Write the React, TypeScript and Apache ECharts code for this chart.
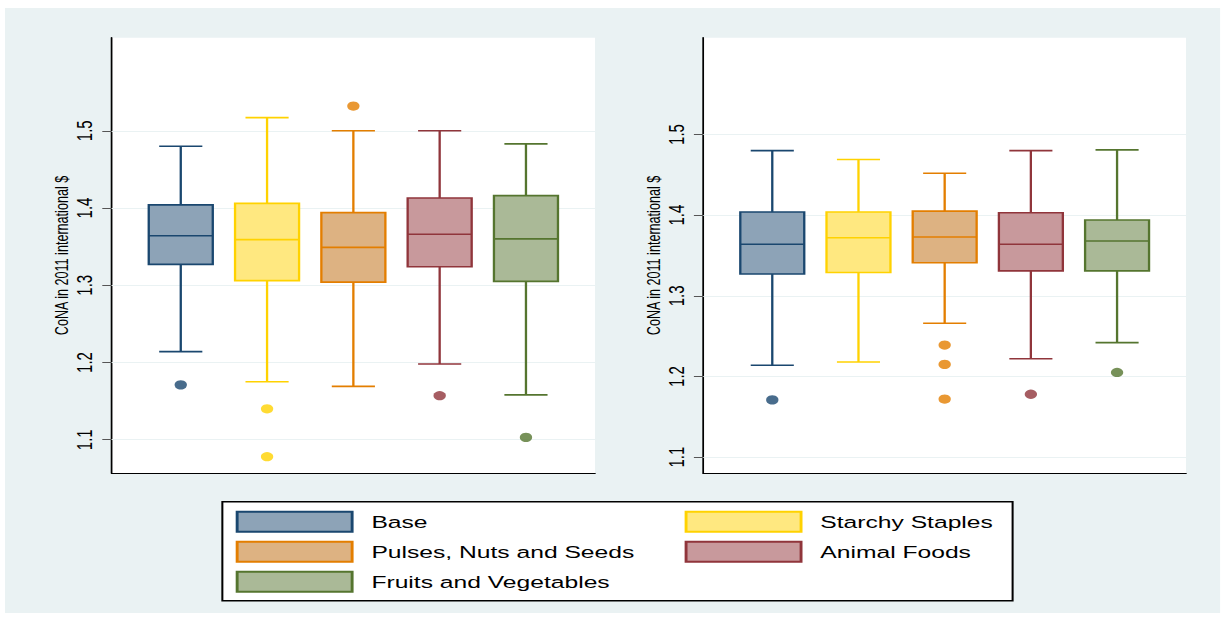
import React, { useEffect, useRef } from 'react';
import * as echarts from 'echarts';

// ---------- data ----------
const categories = ['Base', 'Starchy Staples', 'Pulses, Nuts and Seeds', 'Animal Foods', 'Fruits and Vegetables'];
// [lower whisker, Q1, median, Q3, upper whisker]
const leftStats = [
  [1.214, 1.327, 1.364, 1.404, 1.480],
  [1.175, 1.306, 1.359, 1.406, 1.517],
  [1.169, 1.304, 1.349, 1.394, 1.500],
  [1.198, 1.324, 1.366, 1.413, 1.500],
  [1.158, 1.305, 1.360, 1.416, 1.483],
];
const leftOutliers = [[1.171], [1.140, 1.078], [1.532], [1.157], [1.103]];
const rightStats = [
  [1.214, 1.327, 1.364, 1.404, 1.480],
  [1.218, 1.329, 1.372, 1.404, 1.469],
  [1.266, 1.341, 1.373, 1.405, 1.452],
  [1.222, 1.331, 1.364, 1.403, 1.480],
  [1.242, 1.331, 1.368, 1.394, 1.481],
];
const rightOutliers = [[1.171], [], [1.239, 1.215, 1.172], [1.178], [1.205]];
const yTicks = [1.1, 1.2, 1.3, 1.4, 1.5];
const yRanges = [[1.0565, 1.6205], [1.08, 1.62]];
const yTitle = 'CoNA in 2011 international $';

// ---------- styling ----------
const lineColors = ['#1a476f', '#ffd200', '#e37e00', '#90353b', '#55752f'];
const fillColors = ['#8da3b7', '#ffe880', '#ddb282', '#c8999c', '#aab997'];
const FONT = '"Liberation Sans", Arial, Helvetica, sans-serif';
const S = 1.45; // horizontal stretch of the whole figure
const W = 1215 / S;
const H = 605;
const BOX_W = 0.742;
const CAP_W = 0.5;

function buildOption() {
  const panels = [
    { stats: leftStats, outliers: leftOutliers, left: 73.6, width: 333.3 },
    { stats: rightStats, outliers: rightOutliers, left: 481.6, width: 332.9 },
  ];
  const grid = panels.map((p) => ({
    left: p.left, top: 29.7, width: p.width, height: 435.6,
    show: true, backgroundColor: '#ffffff', borderWidth: 0,
  }));
  const xAxis = panels.map((_, i) => ({
    type: 'value', gridIndex: i, min: 0.2, max: 5.8,
    axisLine: { show: true, onZero: false, lineStyle: { color: '#000', width: 1.2 } },
    axisTick: { show: false }, axisLabel: { show: false }, splitLine: { show: false },
  }));
  const yAxis = panels.map((_, i) => ({
    type: 'value', gridIndex: i, min: yRanges[i][0], max: yRanges[i][1],
    axisLine: { show: true, onZero: false, lineStyle: { color: '#000', width: 1.2 } },
    axisTick: { show: true, length: 6.5, customValues: yTicks, lineStyle: { color: '#555', width: 1 } },
    axisLabel: { customValues: yTicks, rotate: 90, margin: 11, fontSize: 15, fontFamily: FONT, color: '#000' },
    splitLine: { show: false },
    name: yTitle, nameLocation: 'middle', nameGap: 28, nameRotate: 90,
    nameTextStyle: { fontSize: 12.6, fontFamily: FONT, color: '#000' },
  }));

  const series: any[] = [];
  panels.forEach((p, pi) => {
    series.push({
      type: 'line', xAxisIndex: pi, yAxisIndex: pi, data: [], silent: true,
      markLine: {
        silent: true, symbol: ['none', 'none'], label: { show: false }, z: 1,
        lineStyle: { color: '#eaf2f3', width: 1.2, type: 'solid' },
        emphasis: { disabled: true },
        data: yTicks.map((v) => ({ yAxis: v })),
      },
    });
    categories.forEach((name, ci) => {
      const stroke = lineColors[ci];
      const fill = fillColors[ci];
      series.push({
        type: 'custom', name, xAxisIndex: pi, yAxisIndex: pi, z: 3,
        itemStyle: { color: fill, borderColor: stroke },
        encode: { x: 0, y: [1, 2, 3, 4, 5] },
        data: [[ci + 1, ...p.stats[ci]]],
        renderItem: (params: any, api: any) => {
          const x = api.value(0);
          const pLow = api.coord([x, api.value(1)]);
          const pQ1 = api.coord([x, api.value(2)]);
          const pMed = api.coord([x, api.value(3)]);
          const pQ3 = api.coord([x, api.value(4)]);
          const pHigh = api.coord([x, api.value(5)]);
          const bw = api.size([BOX_W, 0])[0];
          const cw = api.size([CAP_W, 0])[0];
          const cx = pMed[0];
          const ls = { stroke, lineWidth: 1.6 };
          return {
            type: 'group',
            children: [
              { type: 'line', shape: { x1: cx, y1: pHigh[1], x2: cx, y2: pQ3[1] }, style: ls },
              { type: 'line', shape: { x1: cx, y1: pQ1[1], x2: cx, y2: pLow[1] }, style: ls },
              { type: 'line', shape: { x1: cx - cw / 2, y1: pHigh[1], x2: cx + cw / 2, y2: pHigh[1] }, style: ls },
              { type: 'line', shape: { x1: cx - cw / 2, y1: pLow[1], x2: cx + cw / 2, y2: pLow[1] }, style: ls },
              { type: 'rect', shape: { x: cx - bw / 2, y: pQ3[1], width: bw, height: pQ1[1] - pQ3[1] },
                style: { fill, stroke, lineWidth: 1.6 } },
              { type: 'line', shape: { x1: cx - bw / 2, y1: pMed[1], x2: cx + bw / 2, y2: pMed[1] }, style: ls },
            ],
          };
        },
      });
      series.push({
        type: 'scatter', name, xAxisIndex: pi, yAxisIndex: pi, z: 4,
        symbol: 'circle', symbolSize: [8.5, 9.3],
        itemStyle: { color: stroke },
        data: p.outliers[ci].map((v) => [ci + 1, v]),
      });
    });
  });

  const legend = {
    left: 149.9, top: 493.7, width: 530, orient: 'horizontal',
    padding: [9, 11.6, 8, 9.2], itemGap: 8, itemWidth: 79.3, itemHeight: 20,
    backgroundColor: '#ffffff', borderColor: '#000', borderWidth: 1.4, borderRadius: 0,
    selectedMode: false, icon: 'rect',
    textStyle: { fontSize: 17, fontFamily: FONT, color: '#000', lineHeight: 20, padding: [0, 0, 0, 8.3] },
    data: categories.map((name, ci) => ({
      name, icon: 'rect',
      itemStyle: { color: fillColors[ci], borderColor: lineColors[ci], borderWidth: 2 },
      textStyle: { width: ci % 2 === 0 ? 208 : 121 },
    })),
  };

  return { animation: false, grid, xAxis, yAxis, series, legend };
}

export default function App() {
  const ref = useRef<HTMLDivElement>(null);
  useEffect(() => {
    const chart = echarts.init(ref.current!, null, { renderer: 'svg', width: W, height: H });
    chart.setOption(buildOption() as any);
    return () => chart.dispose();
  }, []);
  return (
    <div
      ref={ref}
      style={{
        position: 'absolute', left: 5, top: 8, width: W, height: H,
        background: '#eaf2f3', transform: `scaleX(${S})`, transformOrigin: '0 0',
      }}
    />
  );
}
